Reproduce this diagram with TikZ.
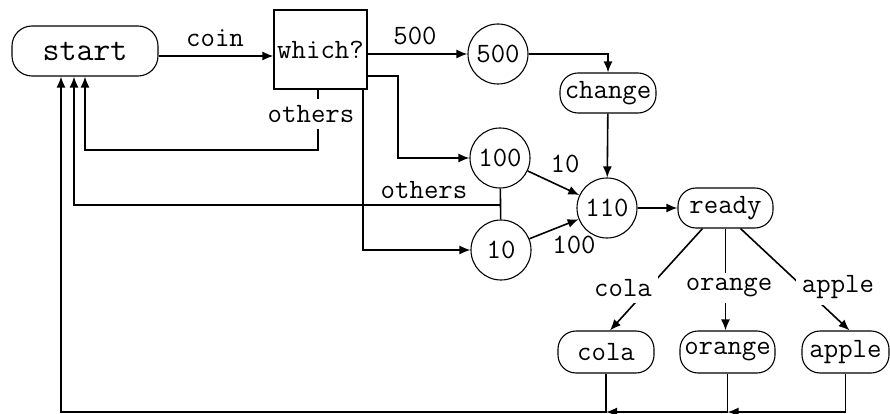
\documentclass[tikz,border=0pt]{standalone}
\usepackage{fontspec}
\usetikzlibrary{arrows.meta}
\begin{document}
\begin{tikzpicture}[x=1pt,y=-1pt,
  line width=1.6pt,
  every node/.style={font=\fontsize{28}{30}\selectfont\ttfamily, inner sep=0pt},
  arr/.style={-{Latex[length=11pt,width=9pt]}},
  circ/.style={draw, circle, minimum size=60pt, line width=1.1pt},
  pill/.style={draw, rectangle, rounded corners=18pt, minimum height=41pt, line width=1.1pt},
  boxnode/.style={draw, rectangle, line width=1.1pt},
  lbl/.style={inner sep=1pt},
  onlbl/.style={fill=white, inner sep=6pt}]
\fill[white] (0,0) rectangle (890,414);
\useasboundingbox (0,0) rectangle (890,414);

% nodes
\node[pill, minimum width=146pt, minimum height=50pt, rounded corners=20pt,
      font=\fontsize{33}{35}\selectfont\ttfamily] (start) at (85,51) {start};
\node[boxnode, minimum width=93pt, minimum height=79pt] (which) at (320.5,49.5) {which?};
\node[circ] (c500) at (498,54) {500};
\node[circ] (c100) at (500,158) {100};
\node[circ] (c10) at (501,250) {10};
\node[circ] (c110) at (607,208) {110};
\node[pill, minimum width=96pt, minimum height=40pt] (change) at (608,93) {change};
\node[pill, minimum width=95pt, minimum height=40pt] (ready) at (725.5,208) {ready};
\node[pill, minimum width=96pt, minimum height=42pt] (cola) at (606,352) {cola};
\node[pill, minimum width=95pt, minimum height=42pt] (orange) at (727.5,352) {orange};
\node[pill, minimum width=87pt, minimum height=42pt] (apple) at (845.5,352) {apple};

% helper coordinates
\coordinate (a1) at (158,56);
\coordinate (b1) at (398,76);
\coordinate (b2) at (363,250);
\coordinate (o1) at (318,150);
\coordinate (o2) at (85,150);
\coordinate (o3) at (500,205);
\coordinate (o4) at (74,205);
\coordinate (L3) at (61,412);

% connectors
\draw[arr] (start.east |- a1) -- (which.west |- a1);
\draw[arr] (which.east |- c500) -- (c500);
\draw[arr] (c500) -| (change.north);
\draw[arr] (change) -- (c110);
\draw[arr] (which.east |- b1) -- (b1) |- (c100);
\draw[arr] (which.south -| b2) -- (b2) -- (c10);
\draw[arr] (which.south -| o1) -- (o1) -- (o2) -- (start.south -| o2);
\draw (c100) -- (c10);
\draw[arr] (o3) -- (o4) -- (start.south -| o4);
\draw[arr] (c100) -- (c110);
\draw[arr] (c10) -- (c110);
\draw[arr] (c110) -- (ready);
\draw[arr] ([xshift=-23pt]ready.south) -- ([xshift=4pt]cola.north);
\draw[arr] (ready.south) -- (ready.south |- orange.north);
\draw[arr] ([xshift=15pt]ready.south) -- ([xshift=4pt]apple.north);
\draw[arr] (apple.south) |- (orange.south |- L3);
\draw[arr] (orange.south) |- (cola.south |- L3);
\draw[arr] (cola.south) |- (L3) -- (start.south -| L3);

% labels
\node[lbl] (lcoin) at (215,38) {coin};
\node[lbl] (l500) at (415,36) {500};
\node[onlbl] (loth1) at (311,114) {others};
\node[lbl] (loth2) at (424,190) {others};
\node[lbl] (l10) at (565,164) {10};
\node[lbl] (l100) at (574,245) {100};
\node[onlbl] (lcola) at (623,288) {cola};
\node[onlbl] (lorange) at (729,288) {orange};
\node[onlbl] (lapple) at (838,287) {apple};
\end{tikzpicture}
\end{document}
